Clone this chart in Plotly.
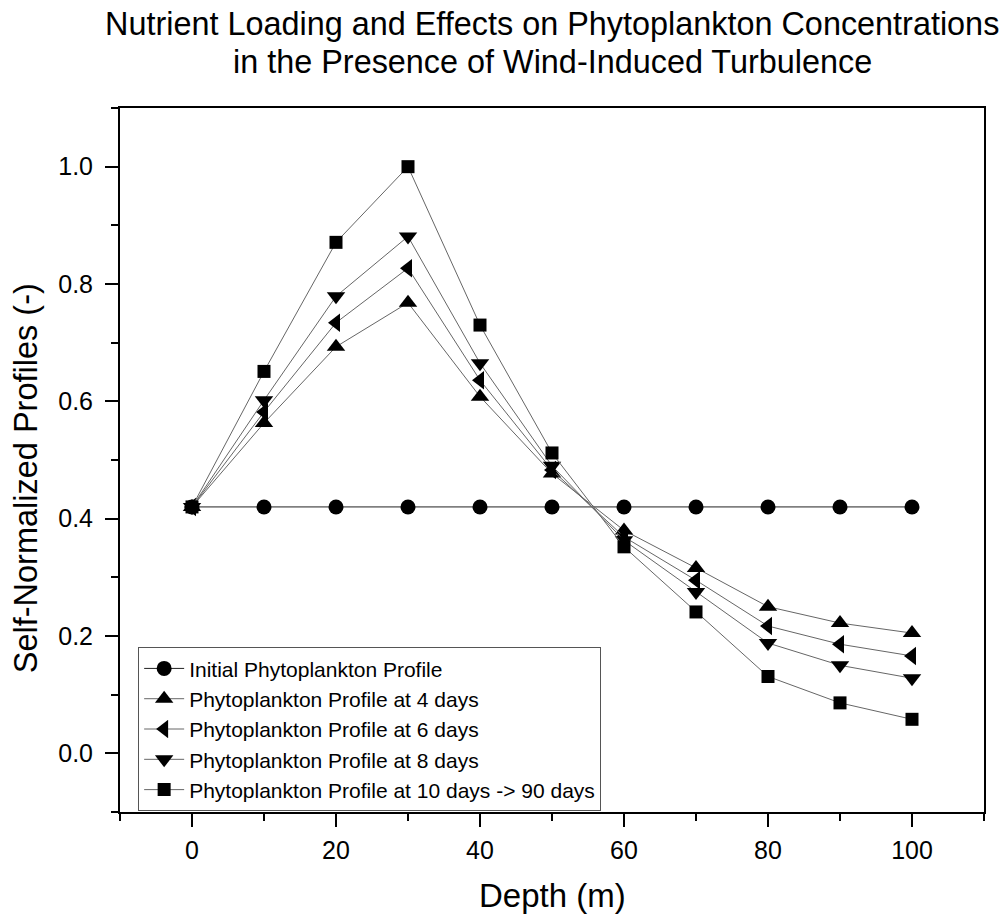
import plotly.graph_objects as go

depth = [0, 10, 20, 30, 40, 50, 60, 70, 80, 90, 100]
initial = [0.42] * 11
day4 = [0.42, 0.563, 0.693, 0.768, 0.608, 0.477, 0.380, 0.316, 0.250, 0.222, 0.205]
day6 = [0.42, 0.582, 0.734, 0.827, 0.636, 0.483, 0.369, 0.295, 0.217, 0.186, 0.166]
day8 = [0.42, 0.602, 0.779, 0.881, 0.665, 0.490, 0.363, 0.275, 0.188, 0.150, 0.128]
day10 = [0.42, 0.651, 0.871, 1.000, 0.730, 0.512, 0.352, 0.241, 0.131, 0.086, 0.058]

names = ["Initial Phytoplankton Profile",
         "Phytoplankton Profile at 4 days",
         "Phytoplankton Profile at 6 days",
         "Phytoplankton Profile at 8 days",
         "Phytoplankton Profile at 10 days -> 90 days"]
series = [initial, day4, day6, day8, day10]
symbols = ["circle", "triangle-up", "triangle-left", "triangle-down", "square"]
sizes = [15, 16, 16, 16, 13]
line_colors = ["#222222", "#666666", "#666666", "#666666", "#666666"]

title_lines = ["Nutrient Loading and Effects on Phytoplankton Concentrations",
               "in the Presence of Wind-Induced Turbulence"]
x_title = "Depth (m)"
y_title = "Self-Normalized Profiles (-)"

FONT = "Arial, Liberation Sans, sans-serif"

fig = go.Figure()
for n, s, sym, sz, lc in zip(names, series, symbols, sizes, line_colors):
    fig.add_trace(go.Scatter(
        x=depth, y=s, name=n, mode="lines+markers",
        line=dict(color=lc, width=1),
        marker=dict(symbol=sym, size=sz, color="black", line=dict(width=0)),
    ))

axis_common = dict(
    showgrid=False, zeroline=False, showline=True, linecolor="black", linewidth=2,
    mirror=True, ticks="outside", ticklen=13, tickwidth=2, tickcolor="black",
    tickfont=dict(family=FONT, size=25, color="black"), automargin=False,
)

fig.update_xaxes(range=[-10, 110], tick0=0, dtick=20, ticklabelstandoff=2,
                 minor=dict(ticks="outside", ticklen=7, tickwidth=2, dtick=10, tick0=-10, tickcolor="black"),
                 **axis_common)
fig.update_yaxes(range=[-0.1, 1.1], tick0=0, dtick=0.2, tickformat=".1f", ticklabelstandoff=7,
                 minor=dict(ticks="outside", ticklen=7, tickwidth=2, dtick=0.1, tick0=0, tickcolor="black"),
                 **axis_common)

fig.add_annotation(text=y_title, xref="paper", yref="paper", x=-0.1088, y=0.474,
                   xanchor="center", yanchor="middle", textangle=-90, showarrow=False,
                   font=dict(family=FONT, size=32.5, color="black"))
fig.add_annotation(text=x_title, xref="paper", yref="paper", x=0.5, y=-0.118,
                   xanchor="center", yanchor="middle", showarrow=False,
                   font=dict(family=FONT, size=33, color="black"))

for txt, yp in zip(title_lines, [1.119, 1.065]):
    fig.add_annotation(text=txt, xref="paper", yref="paper", x=0.5, y=yp,
                       xanchor="center", yanchor="middle", showarrow=False,
                       font=dict(family=FONT, size=32.4, color="black"))

fig.update_layout(
    width=1006, height=916,
    margin=dict(l=120, r=22, t=108, b=104),
    paper_bgcolor="white", plot_bgcolor="white",
    font=dict(family=FONT, color="black"),
    legend=dict(x=0.021, y=0.234, xanchor="left", yanchor="top",
                bgcolor="white", bordercolor="#555555", borderwidth=1,
                font=dict(family=FONT, size=21, color="black"),
                itemwidth=40, tracegroupgap=0),
    showlegend=True,
)

fig.write_html("out.html")
